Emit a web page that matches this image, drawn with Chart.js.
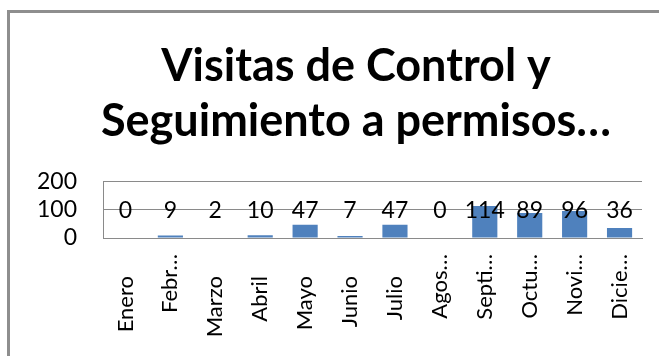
<!DOCTYPE html>
<html lang="es">
<head>
    <meta charset="UTF-8">
    <title>Visitas de Control y Seguimiento a permisos</title>
    <style>
        html, body { margin: 0; padding: 0; background: #fff; overflow: hidden; }
        body { width: 659px; height: 356px; position: relative; }
        /* marco del grafico, solo se ven los bordes izquierdo y superior */
        .frame {
            position: absolute;
            left: 7px;
            top: 10px;
            width: 720px;
            height: 400px;
            border-top: 3px solid #8e8e8e;
            border-left: 3px solid #8e8e8e;
            pointer-events: none;
        }
        #myChart { position: absolute; left: 0; top: 0; }
    </style>
</head>
<body>

<canvas id="myChart" width="712" height="356"></canvas>
<div class="frame"></div>

<script src="https://cdn.jsdelivr.net/npm/chart.js@4/dist/chart.umd.min.js"></script>
<script>
    var meses = ['Enero', 'Febr…', 'Marzo', 'Abril', 'Mayo', 'Junio', 'Julio', 'Agos…', 'Septi…', 'Octu…', 'Novi…', 'Dicie…'];
    var visitas = [0, 9, 2, 10, 47, 7, 47, 0, 114, 89, 96, 36];
    var ticksY = [0, 100, 200];
    var titulo = ['Visitas de Control y', 'Seguimiento a permisos…'];

    // nivel del eje Y donde van las etiquetas de datos
    var nivelEtiquetas = 100;

    Chart.defaults.font.family = 'Lato';
    Chart.defaults.color = '#000';

    var etiquetasDatos = {
        id: 'etiquetasDatos',
        afterDatasetsDraw: function (chart) {
            var ctx = chart.ctx;
            var y = chart.scales.y.getPixelForValue(nivelEtiquetas);
            ctx.save();
            ctx.font = '23px Lato';
            ctx.fillStyle = '#000';
            ctx.textAlign = 'center';
            ctx.textBaseline = 'middle';
            chart.getDatasetMeta(0).data.forEach(function (bar, i) {
                ctx.fillText(String(visitas[i]), bar.x, y + 1);
            });
            ctx.restore();
        }
    };

    // el titulo se centra sobre todo el marco, no sobre el area del grafico
    var tituloCentrado = {
        id: 'tituloCentrado',
        afterLayout: function (chart) {
            if (chart.titleBlock) {
                chart.titleBlock.left = 7;
                chart.titleBlock.right = 705;
            }
        }
    };

    function createChart() {
        var ctx = document.getElementById('myChart').getContext('2d');
        new Chart(ctx, {
            type: 'bar',
            data: {
                labels: meses,
                datasets: [{
                    data: visitas,
                    backgroundColor: '#4f81bd',
                    barPercentage: 0.7,
                    categoryPercentage: 0.8
                }]
            },
            options: {
                responsive: false,
                animation: false,
                devicePixelRatio: 1,
                layout: { padding: { left: 0, right: 70, top: 0, bottom: 0 } },
                plugins: {
                    legend: { display: false },
                    tooltip: { enabled: false },
                    title: {
                        display: true,
                        text: titulo,
                        color: '#000',
                        font: { family: 'Lato', size: 45, weight: 'bold', lineHeight: 1.22 },
                        padding: { top: 39, bottom: 33 }
                    }
                },
                scales: {
                    x: {
                        grid: { display: false },
                        border: { display: true, color: '#8a8a8a', width: 1 },
                        ticks: {
                            minRotation: 90,
                            maxRotation: 90,
                            autoSkip: false,
                            padding: 8,
                            font: { size: 22 },
                            color: '#000',
                            // los nombres completos quedan algo mas abajo que los recortados
                            callback: function (v, i) {
                                var m = meses[i];
                                return m.slice(-1) === '…' ? m : m + '\u2002\u2002';
                            }
                        },
                        afterFit: function (scale) { scale.height = 118; }
                    },
                    y: {
                        min: 0,
                        max: 200,
                        afterBuildTicks: function (scale) {
                            scale.ticks = ticksY.map(function (v) { return { value: v }; });
                        },
                        grid: { color: '#8a8a8a', lineWidth: 1, drawTicks: false },
                        border: { display: true, color: '#8a8a8a', width: 1 },
                        ticks: { autoSkip: false, padding: 26, font: { size: 23 }, color: '#000' },
                        afterFit: function (scale) { scale.width = 103; }
                    }
                }
            },
            plugins: [etiquetasDatos, tituloCentrado]
        });
    }

    createChart();
</script>

</body>
</html>
